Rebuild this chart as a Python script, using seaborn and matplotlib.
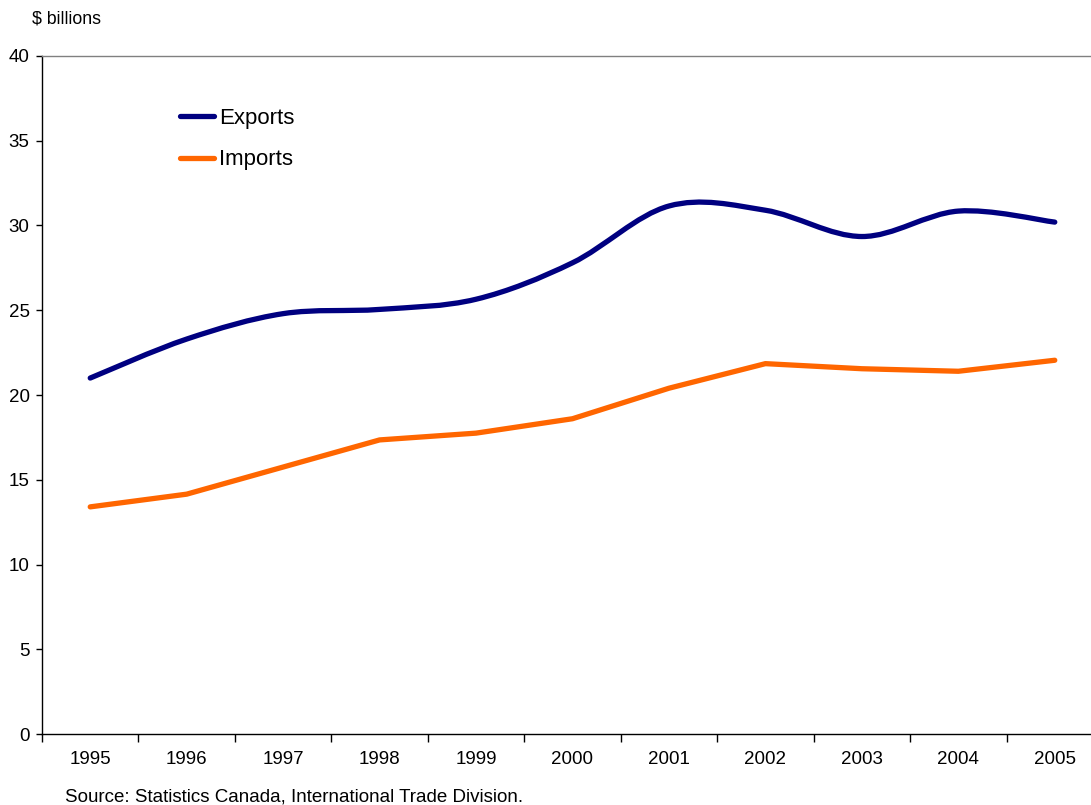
import numpy as np
import pandas as pd
import matplotlib
matplotlib.use("Agg")
import matplotlib.pyplot as plt
from matplotlib.path import Path
from matplotlib.patches import PathPatch
from matplotlib.lines import Line2D
import seaborn as sns

# Annual trade values, $ billions
years = ["1995", "1996", "1997", "1998", "1999", "2000",
         "2001", "2002", "2003", "2004", "2005"]
exports = [21.0, 23.3, 24.8, 25.05, 25.65, 27.8, 31.15, 30.9, 29.35, 30.85, 30.2]
imports = [13.4, 14.15, 15.75, 17.35, 17.75, 18.6, 20.4, 21.85, 21.55, 21.4, 22.05]

sns.set_theme(style="white")
plt.rcParams["font.family"] = ["Liberation Sans", "DejaVu Sans"]
plt.rcParams["text.color"] = "black"

W, H = 1091, 805
fig = plt.figure(figsize=(W / 100, H / 100), dpi=100)
# plot area runs past the right edge of the canvas
left, right, top, bottom = 42, 1103, 56, 734
ax = fig.add_axes([left / W, 1 - bottom / H, (right - left) / W, (bottom - top) / H])

pos = np.arange(len(years))
df_imp = pd.DataFrame({"pos": pos, "value": imports})

NAVY = "#000080"
ORANGE = "#FF6600"
LW = 3.8

# Imports: straight segments
sns.lineplot(data=df_imp, x="pos", y="value", ax=ax, color=ORANGE,
             linewidth=LW, solid_capstyle="round", solid_joinstyle="round",
             legend=False)

# Exports: smoothed curve (cubic Bezier, Catmull-Rom style tangents)
pts = np.column_stack([pos, exports]).astype(float)
ext = np.vstack([pts[0], pts, pts[-1]])
verts = [tuple(pts[0])]
codes = [Path.MOVETO]
for i in range(len(pts) - 1):
    p0, p1, p2, p3 = ext[i], ext[i + 1], ext[i + 2], ext[i + 3]
    c1 = p1 + (p2 - p0) / 6.0
    c2 = p2 - (p3 - p1) / 6.0
    verts += [tuple(c1), tuple(c2), tuple(p2)]
    codes += [Path.CURVE4] * 3
ax.add_patch(PathPatch(Path(verts, codes), fill=False, edgecolor=NAVY,
                       linewidth=LW, capstyle="round", joinstyle="round",
                       zorder=3))

ax.set_xlim(-0.5, len(years) - 0.5)
ax.set_ylim(0, 40)
ax.set_yticks(np.arange(0, 41, 5))
ax.set_yticklabels([str(v) for v in range(0, 41, 5)])

# category labels centred, tick marks on category boundaries
ax.set_xticks(np.arange(-0.5, len(years), 1.0))
ax.set_xticklabels([])
ax.set_xticks(pos, minor=True)
ax.set_xticklabels(years, minor=True)
ax.tick_params(axis="x", which="major", direction="out", length=5.5,
               width=1, color="black", bottom=True)
ax.tick_params(axis="x", which="minor", length=0, pad=12.5,
               labelsize=13.5, labelcolor="black")
ax.tick_params(axis="y", direction="out", length=4.5, width=1,
               color="black", left=True, pad=4.5, labelsize=13.5,
               labelcolor="black")

ax.set_xlabel("")
ax.set_ylabel("")
ax.grid(False)
for side in ["left", "bottom"]:
    ax.spines[side].set_color("black")
    ax.spines[side].set_linewidth(1.0)
ax.spines["top"].set_color("#808080")
ax.spines["top"].set_linewidth(1.0)
ax.spines["right"].set_visible(False)

handles = [Line2D([], [], color=NAVY, linewidth=LW, solid_capstyle="round"),
           Line2D([], [], color=ORANGE, linewidth=LW, solid_capstyle="round")]
leg = ax.legend(handles, ["Exports", "Imports"], loc="upper left",
                bbox_to_anchor=((180 - left) / (right - left), 1 - (108 - top) / (bottom - top)),
                frameon=False, fontsize=16, handlelength=1.55, handletextpad=0.2,
                labelspacing=0.92, borderaxespad=0, borderpad=0)
for t in leg.get_texts():
    t.set_color("black")

fig.text(32 / W, 1 - 19 / H, "$ billions", fontsize=12.8, ha="left", va="center",
         color="black")
fig.text(65 / W, 1 - 797 / H, "Source: Statistics Canada, International Trade Division.",
         fontsize=13.5, ha="left", va="center", color="black")

fig.savefig("out.png", dpi=100, facecolor="white")
